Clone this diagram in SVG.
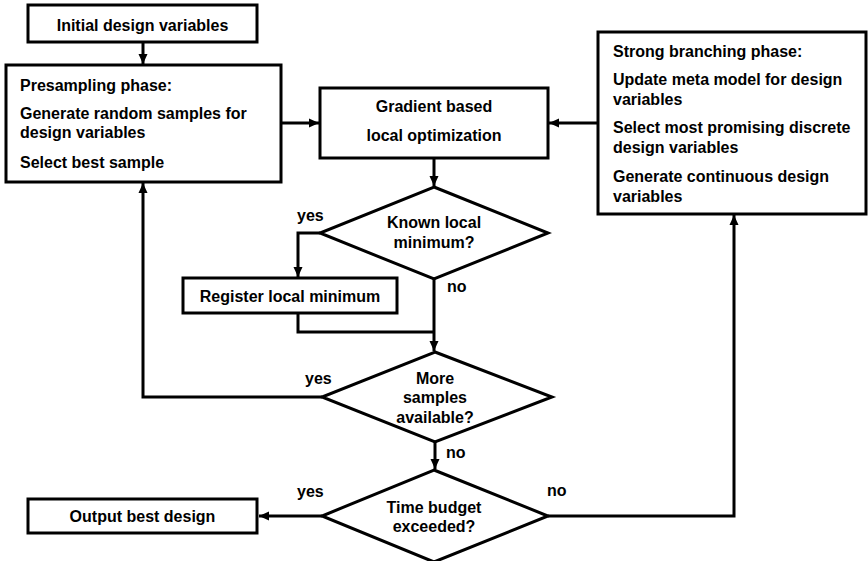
<svg xmlns="http://www.w3.org/2000/svg" width="868" height="561" viewBox="0 0 868 561">
<style>
.box{fill:#fff;stroke:#000;stroke-width:3}
.t{font-family:"Liberation Sans",Arial,sans-serif;font-weight:bold;font-size:16px;fill:#000}
.c{text-anchor:middle}
.ln{fill:none;stroke:#000;stroke-width:3}
</style>
<defs>
<marker id="ah" markerUnits="userSpaceOnUse" markerWidth="12" markerHeight="12" viewBox="0 0 12 12" refX="10" refY="6" orient="auto">
<path d="M0,1.5 L10,6 L0,10.5 z" fill="#000"/>
</marker>
</defs>
<rect width="868" height="561" fill="#fff"/>
<g id="connectors">
<path class="ln" d="M143,42 V64" marker-end="url(#ah)"/>
<path class="ln" d="M281,123 H319" marker-end="url(#ah)"/>
<path class="ln" d="M598,123 H549" marker-end="url(#ah)"/>
<path class="ln" d="M434,158 V186" marker-end="url(#ah)"/>
<path class="ln" d="M320,233 H298 V277" marker-end="url(#ah)"/>
<path class="ln" d="M298,313 V332 H434"/>
<path class="ln" d="M434,279 V351" marker-end="url(#ah)"/>
<path class="ln" d="M322,397 H143 V183" marker-end="url(#ah)"/>
<path class="ln" d="M435,442 V469" marker-end="url(#ah)"/>
<path class="ln" d="M322,516 H259" marker-end="url(#ah)"/>
<path class="ln" d="M548,516 H734 V215" marker-end="url(#ah)"/>
<text class="t" x="297" y="221">yes</text>
<text class="t" x="447" y="292">no</text>
<text class="t" x="305" y="384">yes</text>
<text class="t" x="446" y="458">no</text>
<text class="t" x="297" y="497">yes</text>
<text class="t" x="547" y="496">no</text>
</g>
<g id="initial">
<rect class="box" x="28" y="5" width="229" height="37"/>
<text class="t c" x="142.5" y="31">Initial design variables</text>
</g>
<g id="presampling">
<rect class="box" x="6" y="65" width="275" height="117"/>
<text class="t" x="20" y="91">Presampling phase:</text>
<text class="t" x="20" y="119">Generate random samples for</text>
<text class="t" x="20" y="138">design variables</text>
<text class="t" x="20" y="168">Select best sample</text>
</g>
<g id="gradient">
<rect class="box" x="320" y="88" width="228" height="70"/>
<text class="t c" x="434" y="112">Gradient based</text>
<text class="t c" x="434" y="141">local optimization</text>
</g>
<g id="strong">
<rect class="box" x="598" y="32" width="268" height="182"/>
<text class="t" x="613" y="57">Strong branching phase:</text>
<text class="t" x="613" y="85">Update meta model for design</text>
<text class="t" x="613" y="105">variables</text>
<text class="t" x="613" y="133">Select most promising discrete</text>
<text class="t" x="613" y="153">design variables</text>
<text class="t" x="613" y="182">Generate continuous design</text>
<text class="t" x="613" y="202">variables</text>
</g>
<g id="known">
<polygon class="box" points="434,187 548,233 434,279 320,233"/>
<text class="t c" x="434" y="228">Known local</text>
<text class="t c" x="434" y="248">minimum?</text>
</g>
<g id="register">
<rect class="box" x="183" y="278" width="214" height="35"/>
<text class="t c" x="290" y="302">Register local minimum</text>
</g>
<g id="more">
<polygon class="box" points="435,352 552,397 435,442 322,397"/>
<text class="t c" x="435" y="384">More</text>
<text class="t c" x="435" y="403">samples</text>
<text class="t c" x="435" y="423">available?</text>
</g>
<g id="time">
<polygon class="box" points="434,470 548,516 434,562 322,516"/>
<text class="t c" x="434" y="513">Time budget</text>
<text class="t c" x="434" y="532">exceeded?</text>
</g>
<g id="output">
<rect class="box" x="28" y="499" width="229" height="34"/>
<text class="t c" x="142.5" y="522">Output best design</text>
</g>
</svg>
